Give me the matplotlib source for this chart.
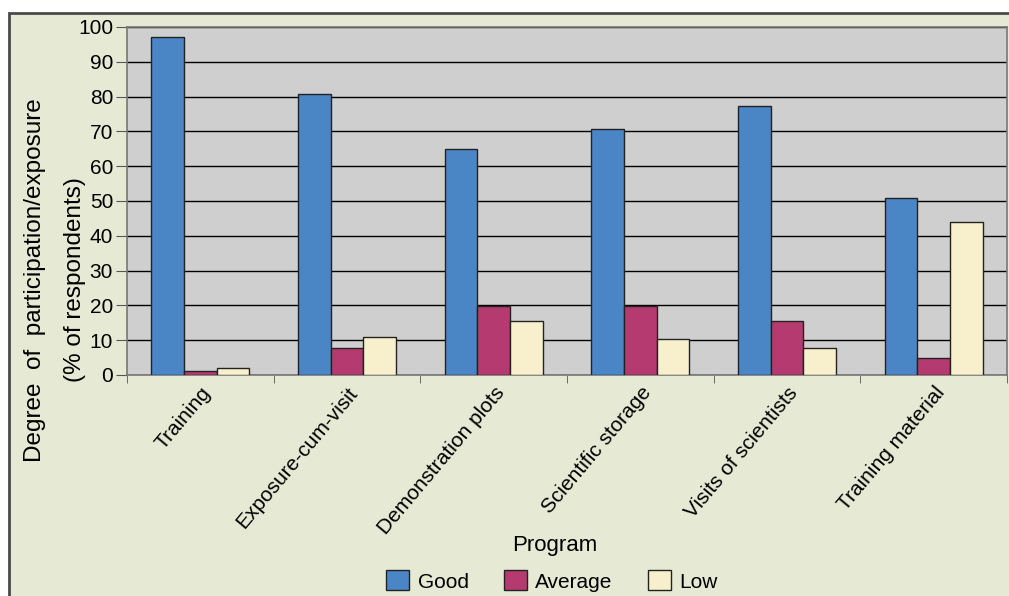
import matplotlib.pyplot as plt
import matplotlib.patches as mpatches
import numpy as np

programs = ["Training", "Exposure-cum-visit", "Demonstration plots",
            "Scientific storage", "Visits of scientists", "Training material"]
good = [97, 80.7, 65, 70.8, 77.2, 51]
average = [1.2, 7.7, 19.8, 19.8, 15.5, 4.8]
low = [2, 11, 15.5, 10.4, 7.7, 44]
series = ["Good", "Average", "Low"]
colors = ["#4a86c5", "#b43a70", "#f8f0cc"]

plt.rcParams['font.family'] = ['Liberation Sans', 'DejaVu Sans']

fig = plt.figure(figsize=(10.09, 5.96), dpi=100, facecolor="white")
# greenish panel with a dark frame on top and left
panel = mpatches.Rectangle((9 / 1009, -0.1), 1.2, (596 - 13) / 596 + 0.1,
                           transform=fig.transFigure, facecolor="#e6ead4",
                           edgecolor="#4a4a4a", linewidth=2, zorder=-1)
fig.add_artist(panel)

ax = fig.add_axes([127 / 1009, 221 / 596, 880 / 1009, 348 / 596])
ax.set_zorder(1)
ax.set_facecolor("#cfcfcf")

x = np.arange(len(programs))
w = 0.222
for i, (vals, name, c) in enumerate(zip([good, average, low], series, colors)):
    ax.bar(x + (i - 1) * w, vals, w, color=c, edgecolor="#222222", linewidth=1,
           label=name, zorder=3)

ax.set_xlim(-0.5, len(programs) - 0.5)
ax.set_ylim(0, 100)
ax.set_yticks(range(0, 101, 10))
ax.tick_params(axis='y', labelsize=15, length=8, color="#555555", pad=2)
ax.yaxis.grid(True, color="black", linewidth=1)
ax.set_axisbelow(True)

ax.set_xticks(x)
ax.set_xticklabels(programs, rotation=50, ha='right', rotation_mode='anchor', fontsize=15)
ax.tick_params(axis='x', length=0, pad=6)
ax.set_xticks(np.arange(-0.5, len(programs)), minor=True)
ax.tick_params(axis='x', which='minor', length=6, color="#555555")

for s in ax.spines.values():
    s.set_color("#777777")
    s.set_linewidth(1.2)

fig.text(555 / 1009, 1 - 545 / 596, "Program", fontsize=16, ha='center', va='center')
fig.text(35 / 1009, 1 - 280 / 596, "Degree  of  participation/exposure", rotation=90,
         fontsize=17.5, ha='center', va='center')
fig.text(75 / 1009, 1 - 280 / 596, "(% of respondents)", rotation=90,
         fontsize=17.5, ha='center', va='center')

fig.legend(loc='center', bbox_to_anchor=(552 / 1009, 1 - 581 / 596), ncol=3,
           frameon=False, fontsize=15, handlelength=1.1, handleheight=1.1,
           columnspacing=1.7, handletextpad=0.4)

fig.savefig("out.png", dpi=100, facecolor=fig.get_facecolor())
